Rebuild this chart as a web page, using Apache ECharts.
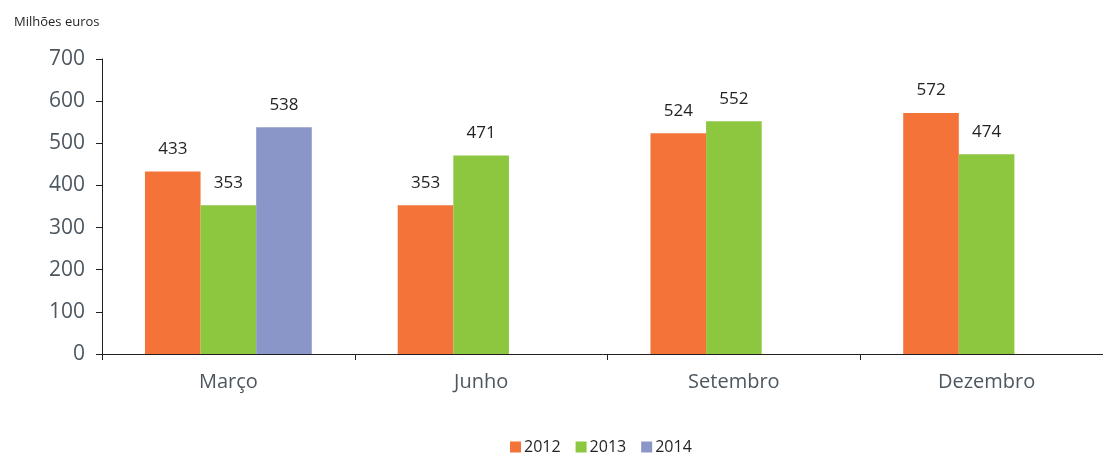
<!DOCTYPE html>
<html>
<head>
<meta charset="utf-8">
<style>
  html, body { margin: 0; padding: 0; background: #fff; }
  #chart { width: 1103px; height: 453px; }
</style>
<script src="https://cdn.jsdelivr.net/npm/echarts@6/dist/echarts.min.js"></script>
</head>
<body>
<div id="chart"></div>
<script>
  // dados
  var categories = ['Março', 'Junho', 'Setembro', 'Dezembro'];
  var years = ['2012', '2013', '2014'];
  var values2012 = [433, 353, 524, 572];
  var values2013 = [353, 471, 552, 474];
  var values2014 = [538, null, null, null];
  var yTicks = [0, 100, 200, 300, 400, 500, 600, 700];

  var colorList = ['#f37338', '#8dc63f', '#8b96c8'];
  var fontFamily = '"Open Sans", "Noto Sans", sans-serif';

  function barSeries(name, data, color) {
    return {
      name: name,
      type: 'bar',
      data: data,
      barGap: 0,
      barCategoryGap: '34%',
      itemStyle: { color: color },
      label: {
        show: true,
        position: 'top',
        distance: 14,
        color: '#231f20',
        fontSize: 17,
        fontFamily: fontFamily
      }
    };
  }

  var chart = echarts.init(document.getElementById('chart'));
  chart.setOption({
    animation: false,
    title: {
      text: 'Milhões euros',
      left: 9,
      top: 11,
      textStyle: { color: '#231f20', fontSize: 13, fontWeight: 'normal', fontFamily: fontFamily }
    },
    legend: {
      data: years,
      left: 505,
      top: 434,
      itemWidth: 11,
      itemHeight: 11,
      itemGap: 15,
      icon: 'rect',
      textStyle: { color: '#231f20', fontSize: 16, fontFamily: fontFamily, padding: [0, 0, 0, -2] }
    },
    grid: {
      left: 102,
      width: 1011,
      top: 59,
      bottom: 99,
      containLabel: false,
      outerBoundsMode: 'none'
    },
    xAxis: {
      type: 'category',
      data: categories,
      axisLine: { show: true, lineStyle: { color: '#231f20', width: 1 } },
      axisTick: { show: true, length: 6, lineStyle: { color: '#231f20' } },
      axisLabel: { color: '#4d5760', fontSize: 20, margin: 18, fontFamily: fontFamily }
    },
    yAxis: {
      type: 'value',
      min: yTicks[0],
      max: yTicks[yTicks.length - 1],
      interval: 100,
      axisLine: { show: true, lineStyle: { color: '#231f20', width: 1 } },
      axisTick: { show: true, length: 6, lineStyle: { color: '#231f20' } },
      axisLabel: { color: '#4d5760', fontSize: 21, margin: 17, fontFamily: fontFamily },
      splitLine: { show: false }
    },
    series: [
      barSeries(years[0], values2012, colorList[0]),
      barSeries(years[1], values2013, colorList[1]),
      barSeries(years[2], values2014, colorList[2])
    ]
  });
</script>
</body>
</html>
